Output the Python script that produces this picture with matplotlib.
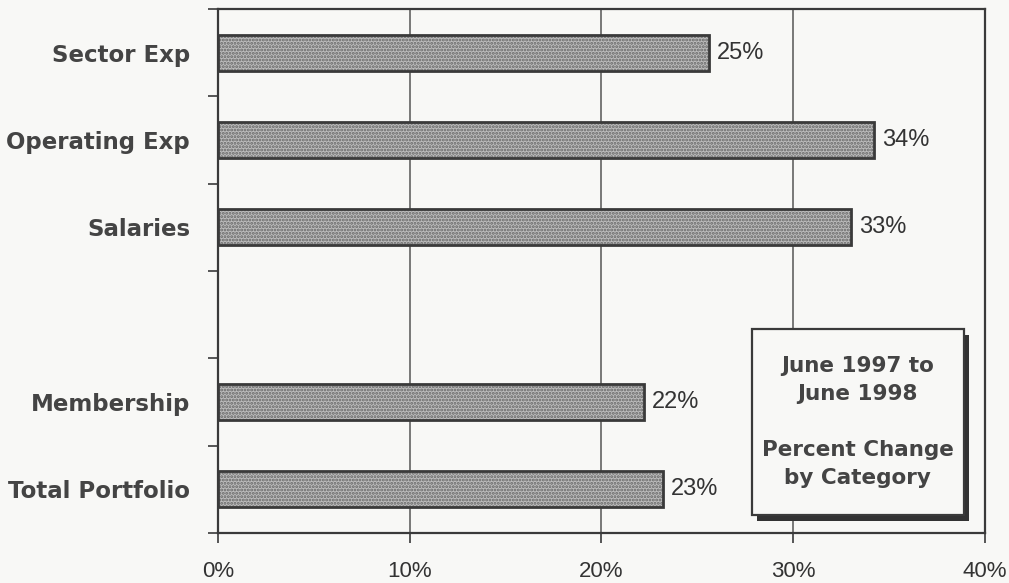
import matplotlib.pyplot as plt
from matplotlib.patches import Rectangle
from matplotlib.ticker import FixedLocator, PercentFormatter

# Data (blank slot between Salaries and Membership)
categories = ['Sector Exp', 'Operating Exp', 'Salaries', '', 'Membership', 'Total Portfolio']
values = [25.6, 34.2, 33.0, None, 22.2, 23.2]
value_labels = ['25%', '34%', '33%', '', '22%', '23%']
x_ticks = [0, 10, 20, 30, 40]
note_text = 'June 1997 to\nJune 1998\n\nPercent Change\nby Category'

bg = '#f8f8f6'
dark = '#3a3a3a'
plt.rcParams['hatch.color'] = '#666666'
plt.rcParams['hatch.linewidth'] = 1.4

fig = plt.figure(figsize=(10.09, 5.83), dpi=100, facecolor=bg)
ax = fig.add_axes([0.216, 0.0858, 0.760, 0.8988], facecolor=bg)

# Only real categories get bars
idx = [i for i, c in enumerate(categories) if c]
widths = [values[i] for i in idx]

# textured fill, then a dark outline on top
ax.barh(idx, widths, height=0.41, color='#bcbcbc', hatch='.....', linewidth=0, zorder=3)
ax.barh(idx, widths, height=0.41, fill=False, edgecolor=dark, linewidth=2, zorder=4)

for i in idx:
    ax.annotate(value_labels[i], xy=(values[i], i), xytext=(6, 0), textcoords='offset points',
                va='center', ha='left', fontsize=17, family='Liberation Sans', color='#333333')

ax.set_xlim(0, 40)
ax.set_ylim(len(categories) - 0.5, -0.5)

ax.set_xticks(x_ticks)
ax.xaxis.set_major_formatter(PercentFormatter(decimals=0))
ax.tick_params(axis='x', direction='out', length=7, width=1.2, color=dark, pad=13,
               labelsize=16, labelcolor='#333333')
for lab in ax.get_xticklabels():
    lab.set_family('Liberation Sans')
ax.grid(axis='x', color='#555555', linewidth=1.1, zorder=1)

ax.set_yticks(range(len(categories)))
ax.set_yticklabels(categories, fontsize=16.5, fontweight='bold', color='#444444')
ax.yaxis.set_minor_locator(FixedLocator([i - 0.5 for i in range(len(categories) + 1)]))
ax.tick_params(axis='y', which='major', length=0, pad=20)
ax.tick_params(axis='y', which='minor', direction='out', length=7, width=1.2, color=dark)

for s in ax.spines.values():
    s.set_color(dark)
    s.set_linewidth(1.6)

# note box with drop shadow
bx, by, bw, bh = 0.696, 0.034, 0.277, 0.355
ax.add_patch(Rectangle((bx + 0.007, by - 0.011), bw, bh, transform=ax.transAxes,
                       facecolor='#333333', edgecolor='none', zorder=5))
ax.add_patch(Rectangle((bx, by), bw, bh, transform=ax.transAxes,
                       facecolor=bg, edgecolor=dark, linewidth=1.6, zorder=6))
ax.text(bx + bw / 2, by + bh / 2, note_text, transform=ax.transAxes, ha='center', va='center',
        fontsize=15.5, fontweight='bold', color='#444444', linespacing=1.5, zorder=7)

fig.savefig('out.png', dpi=100, facecolor=bg)
